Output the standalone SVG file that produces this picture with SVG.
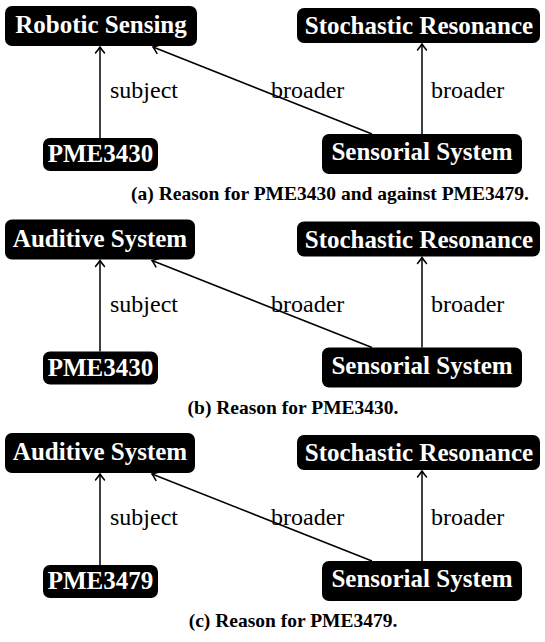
<svg xmlns="http://www.w3.org/2000/svg" width="545" height="642" viewBox="0 0 545 642">
<style>
.box{fill:#000;}
.nt{font-family:'Liberation Serif','DejaVu Serif',serif;font-weight:bold;font-size:25px;fill:#fff;text-anchor:middle;}
.el{font-family:'Liberation Serif','DejaVu Serif',serif;font-size:24px;fill:#000;}
.cap{font-family:'Liberation Serif','DejaVu Serif',serif;font-weight:bold;font-size:19.5px;fill:#000;text-anchor:middle;}
.edge{fill:none;stroke:#000;stroke-width:1.5;marker-end:url(#arr);}
</style>
<defs>
<marker id="arr" viewBox="-8 -6 10 12" markerWidth="10" markerHeight="12" refX="0" refY="0" orient="auto" markerUnits="userSpaceOnUse">
<path d="M-6,-4.5 Q-2,-1.2 0,0 Q-2,1.2 -6,4.5" fill="none" stroke="#000" stroke-width="1.5" stroke-linecap="round"/>
</marker>
</defs>
<rect width="545" height="642" fill="#fff"/>

<g id="connectors">
<path class="edge" d="M100,138 V47"/>
<path class="edge" d="M372,134 L153,47"/>
<path class="edge" d="M422,134 V44"/>
<text class="el" x="110" y="98">subject</text>
<text class="el" x="271" y="98">broader</text>
<text class="el" x="431" y="98">broader</text>

<path class="edge" d="M100,351.5 V260.5"/>
<path class="edge" d="M372,347.5 L152,260.5"/>
<path class="edge" d="M422,347.5 V257.5"/>
<text class="el" x="110" y="311.5">subject</text>
<text class="el" x="271" y="311.5">broader</text>
<text class="el" x="431" y="311.5">broader</text>

<path class="edge" d="M100,565 V474"/>
<path class="edge" d="M372,561 L152,474"/>
<path class="edge" d="M422,561 V471"/>
<text class="el" x="110" y="525">subject</text>
<text class="el" x="271" y="525">broader</text>
<text class="el" x="431" y="525">broader</text>
</g>

<g id="a-robotic-sensing"><rect class="box" x="5" y="6" width="192" height="40" rx="7"/><text class="nt" x="101" y="33">Robotic Sensing</text></g>
<g id="a-stochastic-resonance"><rect class="box" x="297" y="8" width="243" height="35" rx="7"/><text class="nt" x="419" y="34">Stochastic Resonance</text></g>
<g id="a-pme3430"><rect class="box" x="43" y="138" width="115" height="33" rx="7"/><text class="nt" x="100.5" y="162">PME3430</text></g>
<g id="a-sensorial-system"><rect class="box" x="322" y="134" width="200" height="40" rx="7"/><text class="nt" x="422" y="160">Sensorial System</text></g>
<text class="cap" x="330" y="200">(a) Reason for PME3430 and against PME3479.</text>

<g id="b-auditive-system"><rect class="box" x="5" y="219.5" width="190" height="40" rx="7"/><text class="nt" x="100" y="246.5">Auditive System</text></g>
<g id="b-stochastic-resonance"><rect class="box" x="297" y="221.5" width="243" height="35" rx="7"/><text class="nt" x="419" y="247.5">Stochastic Resonance</text></g>
<g id="b-pme3430"><rect class="box" x="43" y="351.5" width="115" height="33" rx="7"/><text class="nt" x="100.5" y="375.5">PME3430</text></g>
<g id="b-sensorial-system"><rect class="box" x="322" y="347.5" width="200" height="40" rx="7"/><text class="nt" x="422" y="373.5">Sensorial System</text></g>
<text class="cap" x="293" y="413.5">(b) Reason for PME3430.</text>

<g id="c-auditive-system"><rect class="box" x="5" y="433" width="190" height="40" rx="7"/><text class="nt" x="100" y="460">Auditive System</text></g>
<g id="c-stochastic-resonance"><rect class="box" x="297" y="435" width="243" height="35" rx="7"/><text class="nt" x="419" y="461">Stochastic Resonance</text></g>
<g id="c-pme3479"><rect class="box" x="43" y="565" width="115" height="33" rx="7"/><text class="nt" x="100.5" y="589">PME3479</text></g>
<g id="c-sensorial-system"><rect class="box" x="322" y="561" width="200" height="40" rx="7"/><text class="nt" x="422" y="587">Sensorial System</text></g>
<text class="cap" x="293" y="627">(c) Reason for PME3479.</text>
</svg>
